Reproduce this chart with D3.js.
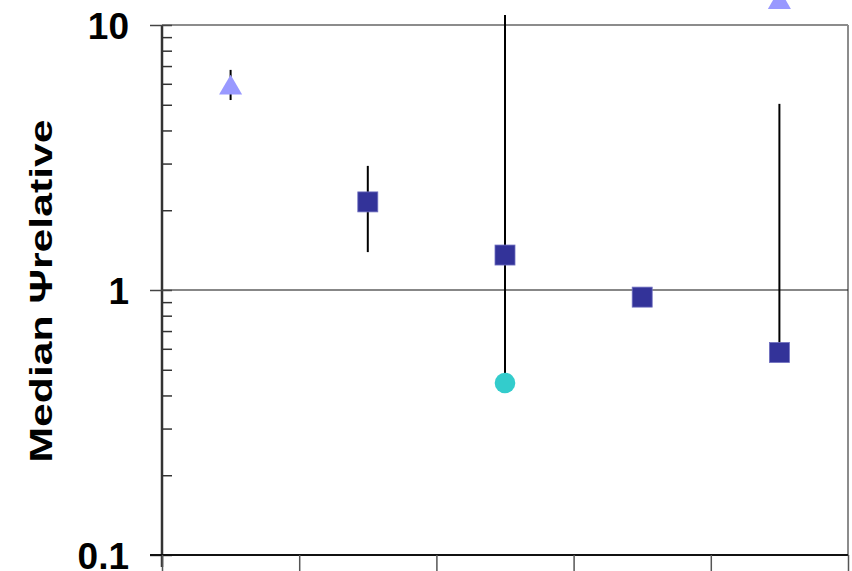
<!DOCTYPE html>
<html>
<head>
<meta charset="utf-8">
<script src="https://cdn.jsdelivr.net/npm/d3@7"></script>
<style>
  html, body { margin: 0; padding: 0; background: #fff; }
  svg { display: block; }
  text { font-family: "Liberation Sans", Arial, sans-serif; font-weight: bold; fill: #000; }
</style>
</head>
<body>
<svg id="chart" width="852" height="571"></svg>
<script>
// Five groups along the x axis (no labels drawn)
const groups = ["G1", "G2", "G3", "G4", "G5"];

// Median values per group for each marker series (null = no point)
const triangleValues = [5.94, null, null, null, 12.5];
const squareValues   = [null, 2.15, 1.355, 0.94, 0.581];
const circleValues   = [null, null, 0.446, null, null];

// Vertical range bars per group
const barLow  = [5.21, 1.39, 0.446, null, 0.581];
const barHigh = [6.77, 2.94, 10.9, null, 5.04];

// Axis settings
const yTickValues = [0.1, 1, 10];
const yTickLabels = ["0.1", "1", "10"];
const yTitle = "Median Ψrelative";

const svg = d3.select("#chart");
const plotLeft = 162, plotRight = 848, plotTop = 25, plotBottom = 555;

const y = d3.scaleLog().domain([0.1, 10]).range([plotBottom, plotTop]);
const xEdge = d3.scaleLinear().domain([0, groups.length]).range([plotLeft, plotRight]);
const x = d3.scaleBand().domain(groups).range([plotLeft, plotRight]);
const cx = g => x(g) + x.bandwidth() / 2;

// Frame: gray top and right borders
svg.append("line").attr("x1", plotLeft).attr("x2", plotRight).attr("y1", plotTop).attr("y2", plotTop)
  .attr("stroke", "#8c8c8c").attr("stroke-width", 2);
svg.append("line").attr("x1", plotRight).attr("x2", plotRight).attr("y1", plotTop).attr("y2", plotBottom)
  .attr("stroke", "#8c8c8c").attr("stroke-width", 2);

// Reference line at 1
svg.append("line").attr("x1", plotLeft).attr("x2", plotRight).attr("y1", y(1)).attr("y2", y(1))
  .attr("stroke", "#111").attr("stroke-width", 1.2);

// Minor ticks on the inside of the y axis
const minorTicks = y.ticks().filter(v => !yTickValues.some(t => Math.abs(t - v) < 1e-9));
svg.append("g").attr("transform", `translate(${plotLeft},0)`)
  .call(d3.axisRight(y).tickValues(minorTicks).tickSize(10).tickFormat(""))
  .call(g => g.select(".domain").remove())
  .call(g => g.selectAll("line").attr("stroke", "#333").attr("stroke-width", 1.5));

// Major ticks crossing the y axis, with labels
const yAxis = svg.append("g").attr("transform", `translate(${plotLeft},0)`)
  .call(d3.axisLeft(y).tickValues(yTickValues).tickSize(12).tickPadding(21)
    .tickFormat((d, i) => yTickLabels[i]));
yAxis.select(".domain").attr("stroke", "#333").attr("stroke-width", 2.5)
  .attr("d", `M0,${plotTop}V${plotBottom + 12}`);
yAxis.selectAll(".tick line").attr("stroke", "#444").attr("stroke-width", 1.5)
  .attr("x2", -12).attr("x1", 10);
yAxis.selectAll(".tick text")
  .attr("font-size", 37).attr("font-weight", "bold")
  .attr("font-family", "'Liberation Sans', Arial, sans-serif")
  .attr("fill", "#000").attr("dy", "0.36em");

// Bottom axis with group boundary ticks
const xAxis = svg.append("g").attr("transform", `translate(0,${plotBottom})`)
  .call(d3.axisBottom(xEdge).tickValues(d3.range(groups.length + 1)).tickSize(18).tickFormat(""));
xAxis.select(".domain").attr("stroke", "#111").attr("stroke-width", 2)
  .attr("d", `M${plotLeft - 12},0H${plotRight}`);
xAxis.selectAll(".tick line").attr("stroke", "#555").attr("stroke-width", 1.5);

// Y axis title
svg.append("text")
  .attr("transform", `translate(52,291) rotate(-90)`)
  .attr("text-anchor", "middle")
  .attr("font-size", 32)
  .attr("textLength", 343)
  .attr("lengthAdjust", "spacingAndGlyphs")
  .text(yTitle);

// Range bars
const bars = groups.map((g, i) => ({ g, lo: barLow[i], hi: barHigh[i] })).filter(d => d.lo != null);
svg.append("g").selectAll("line").data(bars).join("line")
  .attr("x1", d => cx(d.g)).attr("x2", d => cx(d.g))
  .attr("y1", d => y(d.lo)).attr("y2", d => y(d.hi))
  .attr("stroke", "#000").attr("stroke-width", 2);

// Marker series
const pts = vals => groups.map((g, i) => ({ g, v: vals[i] })).filter(d => d.v != null);
const sym = (type, size) => d3.symbol().type(type).size(size)();

svg.append("g").selectAll("path").data(pts(triangleValues)).join("path")
  .attr("transform", d => `translate(${cx(d.g)},${y(d.v) + 3})`)
  .attr("d", sym(d3.symbolTriangle, 230))
  .attr("fill", "#9999ff");

svg.append("g").selectAll("rect").data(pts(squareValues)).join("rect")
  .attr("x", d => cx(d.g) - 10).attr("y", d => y(d.v) - 10)
  .attr("width", 20).attr("height", 20)
  .attr("fill", "#333399").attr("stroke", "#7070c0").attr("stroke-width", 0.8);

svg.append("g").selectAll("circle").data(pts(circleValues)).join("circle")
  .attr("cx", d => cx(d.g)).attr("cy", d => y(d.v)).attr("r", 10.3)
  .attr("fill", "#33cccc");
</script>
</body>
</html>
